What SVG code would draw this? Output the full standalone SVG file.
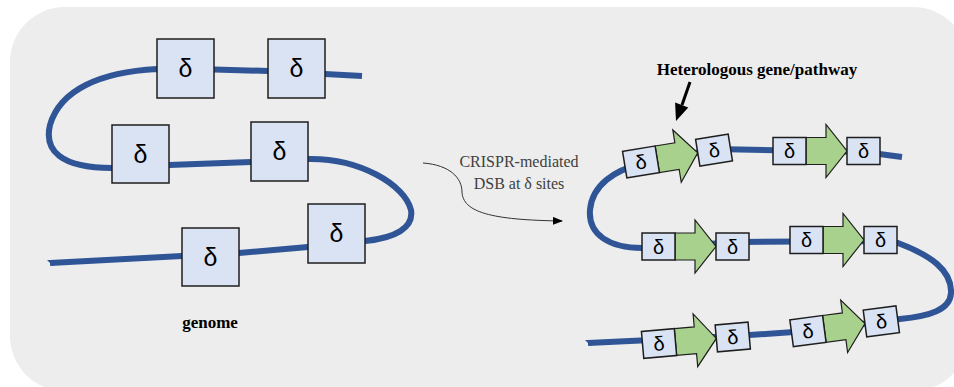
<svg xmlns="http://www.w3.org/2000/svg" width="954" height="387" viewBox="0 0 954 387">
<style>
.strand{fill:none;stroke:#2F5597;stroke-width:6;stroke-linecap:butt;stroke-linejoin:round}
.dbox{fill:#DAE3F3;stroke:#1E1E1E;stroke-width:1.5}
.gene{fill:#A9D18E;stroke:#1E1E1E;stroke-width:1.2;stroke-linejoin:miter}
.dl{font-family:"Liberation Sans",Arial,sans-serif;font-size:25px;fill:#000;text-anchor:middle}
.ds{font-family:"Liberation Sans",Arial,sans-serif;font-size:20px;fill:#000;text-anchor:middle}
.lbl{font-family:"Liberation Serif","Times New Roman",serif;font-weight:bold;font-size:17px;fill:#000;text-anchor:middle}
.note{font-family:"Liberation Serif","Times New Roman",serif;font-size:16px;fill:#404040;text-anchor:middle}
</style>
<defs>
<marker id="ah" markerWidth="10" markerHeight="8" refX="9" refY="4" orient="auto" markerUnits="userSpaceOnUse">
<path d="M0,0 L10,4 L0,8 Z" fill="#000"/>
</marker>
<g id="unit">
<polygon class="gene" points="33,-13.5 53,-13.5 53,-26.5 74,0 53,26.5 53,13.5 33,13.5"/>
<rect class="dbox" x="0" y="-13.5" width="33" height="27"/>
<text class="ds" x="16.5" y="7">δ</text>
<rect class="dbox" x="74" y="-13.5" width="33" height="27"/>
<text class="ds" x="90.5" y="7">δ</text>
</g>
</defs>
<rect x="10" y="7" width="958" height="384" rx="55" ry="55" fill="#EDEDED"/>
<g id="strands">
<path class="strand" d="M362,76 L325,74 L268,71 L214,69.5 L157,69 C100,72 60,90 50,125 C44,150 60,168 112,168 L169,165 L251,162 L308,159 C360,158 405,185 411,210 C414,228 395,238 365,241 L308,247 L239,253 L182,256 L50,263"/>
<polygon points="47,260 57,260 53,266" fill="#2F5597"/>
<path class="strand" d="M902,157 L864,152 L715,149 L641,164 C615,170 592,185 590,210 C588,235 610,248 642,248 L740,242 L880,241 L898,243 C930,255 952,270 951,293 C950,310 930,316 900,319 L808,331 L735,336 L588,343"/>
<polygon points="585,340 595,340 591,346" fill="#2F5597"/>
</g>
<g id="genome-left">
<g id="d1"><rect class="dbox" x="157" y="39" width="57" height="59"/><text class="dl" x="185.5" y="77">δ</text></g>
<g id="d2"><rect class="dbox" x="268" y="39" width="57" height="59"/><text class="dl" x="296.5" y="77">δ</text></g>
<g id="d3"><rect class="dbox" x="112" y="125" width="57" height="58"/><text class="dl" x="140.5" y="163">δ</text></g>
<g id="d4"><rect class="dbox" x="251" y="122" width="57" height="59"/><text class="dl" x="279.5" y="160">δ</text></g>
<g id="d5"><rect class="dbox" x="308" y="204" width="57" height="59"/><text class="dl" x="336.5" y="242">δ</text></g>
<g id="d6"><rect class="dbox" x="182" y="228" width="57" height="58"/><text class="dl" x="210.5" y="266">δ</text></g>
<text id="genome-label" class="lbl" x="210" y="328">genome</text>
</g>
<g id="genome-right">
<use id="u1" href="#unit" transform="translate(624.7,164.6) rotate(-9.2)"/>
<use id="u2" href="#unit" transform="translate(773,151)"/>
<use id="u3" href="#unit" transform="translate(642,246.5)"/>
<use id="u4" href="#unit" transform="translate(790,240)"/>
<use id="u5" href="#unit" transform="translate(642.6,344.9) rotate(-5)"/>
<use id="u6" href="#unit" transform="translate(791.6,333.2) rotate(-7.5)"/>
</g>
<g id="labels">
<text id="hetero" class="lbl" x="757" y="75">Heterologous gene/pathway</text>
<text id="crispr" class="note"><tspan x="519" y="167">CRISPR-mediated</tspan><tspan x="519" y="189">DSB at δ sites</tspan></text>
</g>
<g id="connectors">
<path d="M423,163 C450,165 462,178 462,192 C463,212 490,220 562,221" fill="none" stroke="#333" stroke-width="1" marker-end="url(#ah)"/>
<line x1="690" y1="82" x2="682" y2="105" stroke="#000" stroke-width="3"/>
<polygon points="676,121 688.3,107.4 675.1,102.6" fill="#000"/>
</g>
</svg>
